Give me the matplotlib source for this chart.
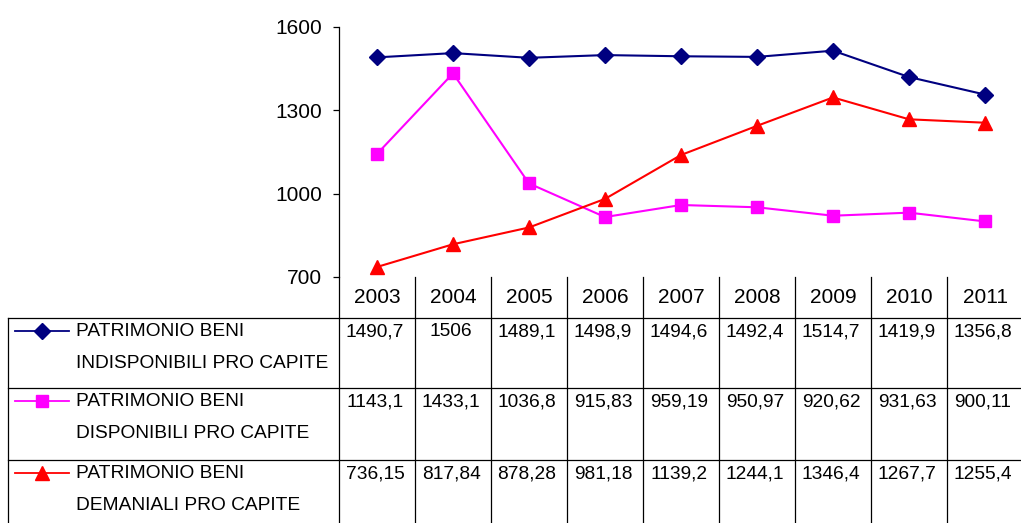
import matplotlib
matplotlib.use("Agg")
import matplotlib.pyplot as plt
from matplotlib.lines import Line2D

plt.rcParams['font.family'] = ['Liberation Sans', 'DejaVu Sans']

years = ['2003', '2004', '2005', '2006', '2007', '2008', '2009', '2010', '2011']
indisponibili = [1490.7, 1506, 1489.1, 1498.9, 1494.6, 1492.4, 1514.7, 1419.9, 1356.8]
disponibili = [1143.1, 1433.1, 1036.8, 915.83, 959.19, 950.97, 920.62, 931.63, 900.11]
demaniali = [736.15, 817.84, 878.28, 981.18, 1139.2, 1244.1, 1346.4, 1267.7, 1255.4]

series = [
    (["PATRIMONIO BENI", "INDISPONIBILI PRO CAPITE"], indisponibili, '#000080', 'D', 8),
    (["PATRIMONIO BENI", "DISPONIBILI PRO CAPITE"], disponibili, '#FF00FF', 's', 9),
    (["PATRIMONIO BENI", "DEMANIALI PRO CAPITE"], demaniali, '#FF0000', '^', 9.5),
]

W, H = 1021, 523
fig = plt.figure(figsize=(W / 100, H / 100), dpi=100)

# pixel layout
x0, x1 = 339, 1023
y_top, y_axis = 27, 277
row_edges = [318, 388, 460, 540]
col_w = (x1 - x0) / len(years)

# table layer in pixel coordinates
tab = fig.add_axes([0, 0, 1, 1], zorder=0)
tab.set_xlim(0, W)
tab.set_ylim(H, 0)
tab.axis('off')

lc = '#000000'
for i in range(len(years) + 1):
    tab.plot([x0 + i * col_w] * 2, [y_axis, H + 5], color=lc, lw=0.9)
for yy in row_edges[:-1]:
    tab.plot([8, W], [yy, yy], color=lc, lw=0.9)
tab.plot([8, 8], [row_edges[0], H + 5], color=lc, lw=0.9)

for i, yr in enumerate(years):
    tab.text(x0 + (i + 0.5) * col_w, (y_axis + row_edges[0]) / 2, yr,
             ha='center', va='center', fontsize=15)

for r, (label, vals, color, mk, ms) in enumerate(series):
    top = row_edges[r]
    line_y = top + 13
    tab.add_line(Line2D([15, 69], [line_y, line_y], color=color, lw=1.3))
    tab.plot([42], [line_y], marker=mk, color=color, ms=ms, mec=color)
    tab.text(76, line_y, label[0], ha='left', va='center', fontsize=13.8)
    tab.text(76, line_y + 33, label[1], ha='left', va='center', fontsize=13.8)
    for i, v in enumerate(vals):
        s = f"{v:.5g}".replace('.', ',')
        tab.text(x0 + (i + 0.5) * col_w - 2, line_y + 1, s,
                 ha='center', va='center', fontsize=13.8)

# chart layer
ax = fig.add_axes([x0 / W, 1 - y_axis / H, (x1 - x0) / W, (y_axis - y_top) / H], zorder=1)
ax.patch.set_alpha(0)
xs = [i + 0.5 for i in range(len(years))]
for label, vals, color, mk, ms in series:
    ax.plot(xs, vals, color=color, marker=mk, ms=ms, mec=color, lw=1.5, clip_on=False)

ax.set_xlim(0, len(years))
ax.set_ylim(700, 1600)
ax.set_yticks([700, 1000, 1300, 1600])
ax.tick_params(axis='y', labelsize=15, length=4.3, width=0.9, direction='out', pad=8)
ax.set_xticks([])
for s in ['top', 'right', 'bottom']:
    ax.spines[s].set_visible(False)
ax.spines['left'].set_linewidth(0.9)

fig.savefig('out.png', dpi=100)
